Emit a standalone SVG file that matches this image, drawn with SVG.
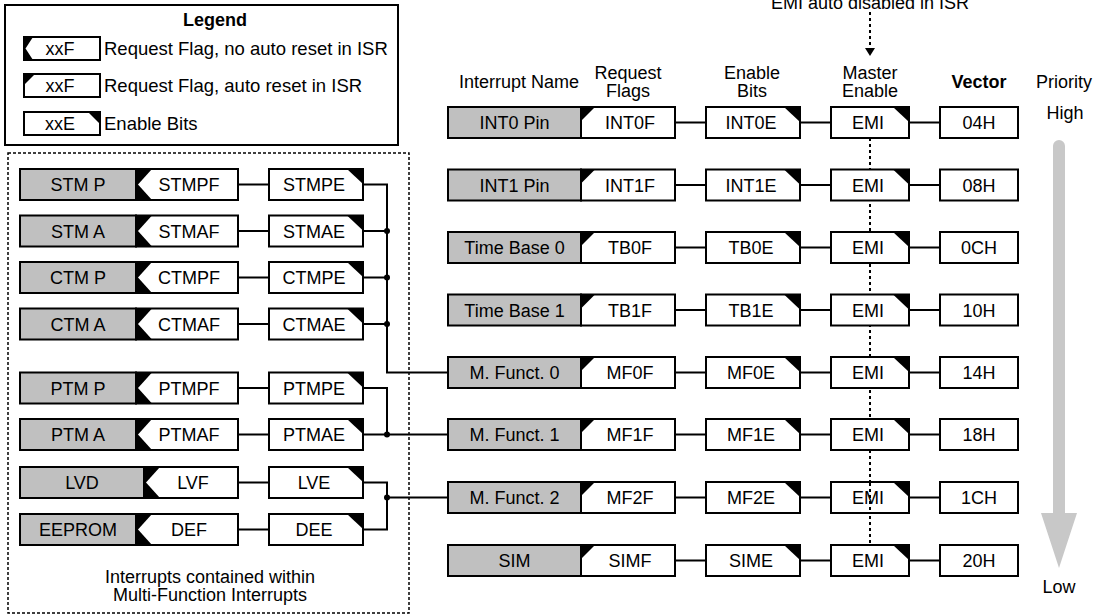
<svg xmlns="http://www.w3.org/2000/svg" width="1096" height="615" viewBox="0 0 1096 615">
<style>
.t{font-family:"Liberation Sans",Arial,sans-serif;font-size:18px;fill:#000;text-anchor:middle}
.tl{font-family:"Liberation Sans",Arial,sans-serif;font-size:18.5px;fill:#000;text-anchor:start}
.b{font-weight:bold}
.box{fill:#fff;stroke:#000;stroke-width:2}
.ol{fill:none;stroke:#000;stroke-width:2}
.gray{fill:#c0c0c0;stroke:#000;stroke-width:2}
.blk{fill:#000}
.wht{fill:#fff}
.ln{fill:none;stroke:#000;stroke-width:2}
.dot{fill:none;stroke:#000;stroke-width:2;stroke-dasharray:3 3}
.brd{fill:none;stroke:#000;stroke-width:1.5;stroke-dasharray:3 2}
</style>
<rect width="1096" height="615" fill="#fff"/>

<!-- Legend -->
<g id="legend">
<rect x="5" y="5" width="393" height="140" class="ol"/>
<text x="215" y="26" class="t b">Legend</text>
<rect x="24" y="37" width="9" height="23" class="blk"/>
<polygon points="33,37 100,37 100,60 33,60 25.5,48.5" class="wht"/>
<rect x="24" y="37" width="76" height="23" class="ol"/>
<text x="60" y="55" class="t">xxF</text>
<text x="104" y="55" class="tl">Request Flag, no auto reset in ISR</text>
<rect x="24" y="74" width="76" height="23" class="box"/>
<polygon points="24,74 35,74 24,85" class="blk"/>
<text x="60" y="92" class="t">xxF</text>
<text x="104" y="92" class="tl">Request Flag, auto reset in ISR</text>
<rect x="24" y="112" width="76" height="23" class="box"/>
<polygon points="88,112 100,112 100,124" class="blk"/>
<text x="60" y="130" class="t">xxE</text>
<text x="104" y="130" class="tl">Enable Bits</text>
</g>

<!-- Multi-function container -->
<g id="mf-container">
<rect x="8" y="153" width="401" height="460" class="brd"/>
<text x="210" y="583" class="t">Interrupts contained within</text>
<text x="210" y="601" class="t">Multi-Function Interrupts</text>
</g>

<!-- Headers -->
<g id="headers">
<text x="870" y="9" class="t">EMI auto disabled in ISR</text>
<text x="519" y="88" class="t">Interrupt Name</text>
<text x="628" y="79" class="t">Request</text>
<text x="628" y="96.5" class="t">Flags</text>
<text x="752" y="79" class="t">Enable</text>
<text x="752" y="96.5" class="t">Bits</text>
<text x="870" y="79" class="t">Master</text>
<text x="870" y="96.5" class="t">Enable</text>
<text x="979" y="88" class="t b">Vector</text>
<text x="1064" y="88" class="t">Priority</text>
<text x="1065" y="119" class="t">High</text>
<text x="1059" y="593" class="t">Low</text>
</g>

<!-- Priority arrow -->
<g id="priority-arrow">
<path d="M1053,513 L1053,146 A6,6 0 0 1 1065,146 L1065,513 L1077,513 L1059,568 L1041,513 Z" fill="#c8c8c8"/>
</g>

<!-- Connectors -->
<g id="connectors">
<line x1="870" y1="12" x2="870" y2="49" class="dot"/>
<polygon points="865,48 875,48 870,56" class="blk"/>
<line x1="870" y1="138" x2="870" y2="545" class="dot"/>
<!-- right rows -->
<path d="M675,122.5H706M800,122.5H831M909,122.5H940" class="ln"/>
<path d="M675,185H706M800,185H831M909,185H940" class="ln"/>
<path d="M675,247.5H706M800,247.5H831M909,247.5H940" class="ln"/>
<path d="M675,310H706M800,310H831M909,310H940" class="ln"/>
<path d="M675,372.5H706M800,372.5H831M909,372.5H940" class="ln"/>
<path d="M675,434.5H706M800,434.5H831M909,434.5H940" class="ln"/>
<path d="M675,497.5H706M800,497.5H831M909,497.5H940" class="ln"/>
<path d="M675,560.5H706M800,560.5H831M909,560.5H940" class="ln"/>
<!-- left rows -->
<path d="M238,184.5H269M238,231H269M238,277.5H269M238,324H269M238,388H269M238,434.5H269M238,482.5H269M238,529.5H269" class="ln"/>
<!-- bus 1 -->
<path d="M363,184.5H387V372.5H448M363,231H387M363,277.5H387M363,324H387" class="ln"/>
<circle cx="387" cy="231" r="3" class="blk"/>
<circle cx="387" cy="277.5" r="3" class="blk"/>
<circle cx="387" cy="324" r="3" class="blk"/>
<!-- bus 2 -->
<path d="M363,388H387V434.5M363,434.5H448" class="ln"/>
<circle cx="387" cy="434.5" r="3" class="blk"/>
<!-- bus 3 -->
<path d="M363,482.5H387V529.5H363M387,497.5H448" class="ln"/>
<circle cx="387" cy="497.5" r="3" class="blk"/>
</g>

<!-- Right rows -->
<g id="int0">
<rect x="448" y="107" width="133" height="31" class="gray"/><text x="514.5" y="129" class="t">INT0 Pin</text>
<rect x="581" y="107" width="94" height="31" class="box"/><polygon points="581,107 595,107 581,121" class="blk"/><text x="630" y="129" class="t">INT0F</text>
<rect x="706" y="107" width="94" height="31" class="box"/><polygon points="784,107 800,107 800,122" class="blk"/><text x="751" y="129" class="t">INT0E</text>
<rect x="831" y="107" width="78" height="31" class="box"/><polygon points="893,107 909,107 909,122" class="blk"/><text x="868" y="129" class="t">EMI</text>
<rect x="940" y="107" width="78" height="31" class="box"/><text x="979" y="129" class="t">04H</text>
</g>
<g id="int1">
<rect x="448" y="169.5" width="133" height="31" class="gray"/><text x="514.5" y="191.5" class="t">INT1 Pin</text>
<rect x="581" y="169.5" width="94" height="31" class="box"/><polygon points="581,169.5 595,169.5 581,183.5" class="blk"/><text x="630" y="191.5" class="t">INT1F</text>
<rect x="706" y="169.5" width="94" height="31" class="box"/><polygon points="784,169.5 800,169.5 800,184.5" class="blk"/><text x="751" y="191.5" class="t">INT1E</text>
<rect x="831" y="169.5" width="78" height="31" class="box"/><polygon points="893,169.5 909,169.5 909,184.5" class="blk"/><text x="868" y="191.5" class="t">EMI</text>
<rect x="940" y="169.5" width="78" height="31" class="box"/><text x="979" y="191.5" class="t">08H</text>
</g>
<g id="tb0">
<rect x="448" y="232" width="133" height="31" class="gray"/><text x="514.5" y="254" class="t">Time Base 0</text>
<rect x="581" y="232" width="94" height="31" class="box"/><polygon points="581,232 595,232 581,246" class="blk"/><text x="630" y="254" class="t">TB0F</text>
<rect x="706" y="232" width="94" height="31" class="box"/><polygon points="784,232 800,232 800,247" class="blk"/><text x="751" y="254" class="t">TB0E</text>
<rect x="831" y="232" width="78" height="31" class="box"/><polygon points="893,232 909,232 909,247" class="blk"/><text x="868" y="254" class="t">EMI</text>
<rect x="940" y="232" width="78" height="31" class="box"/><text x="979" y="254" class="t">0CH</text>
</g>
<g id="tb1">
<rect x="448" y="294.5" width="133" height="31" class="gray"/><text x="514.5" y="316.5" class="t">Time Base 1</text>
<rect x="581" y="294.5" width="94" height="31" class="box"/><polygon points="581,294.5 595,294.5 581,308.5" class="blk"/><text x="630" y="316.5" class="t">TB1F</text>
<rect x="706" y="294.5" width="94" height="31" class="box"/><polygon points="784,294.5 800,294.5 800,309.5" class="blk"/><text x="751" y="316.5" class="t">TB1E</text>
<rect x="831" y="294.5" width="78" height="31" class="box"/><polygon points="893,294.5 909,294.5 909,309.5" class="blk"/><text x="868" y="316.5" class="t">EMI</text>
<rect x="940" y="294.5" width="78" height="31" class="box"/><text x="979" y="316.5" class="t">10H</text>
</g>
<g id="mf0">
<rect x="448" y="357" width="133" height="31" class="gray"/><text x="514.5" y="379" class="t">M. Funct. 0</text>
<rect x="581" y="357" width="94" height="31" class="box"/><polygon points="581,357 595,357 581,371" class="blk"/><text x="630" y="379" class="t">MF0F</text>
<rect x="706" y="357" width="94" height="31" class="box"/><polygon points="784,357 800,357 800,372" class="blk"/><text x="751" y="379" class="t">MF0E</text>
<rect x="831" y="357" width="78" height="31" class="box"/><polygon points="893,357 909,357 909,372" class="blk"/><text x="868" y="379" class="t">EMI</text>
<rect x="940" y="357" width="78" height="31" class="box"/><text x="979" y="379" class="t">14H</text>
</g>
<g id="mf1">
<rect x="448" y="419" width="133" height="31" class="gray"/><text x="514.5" y="441" class="t">M. Funct. 1</text>
<rect x="581" y="419" width="94" height="31" class="box"/><polygon points="581,419 595,419 581,433" class="blk"/><text x="630" y="441" class="t">MF1F</text>
<rect x="706" y="419" width="94" height="31" class="box"/><polygon points="784,419 800,419 800,434" class="blk"/><text x="751" y="441" class="t">MF1E</text>
<rect x="831" y="419" width="78" height="31" class="box"/><polygon points="893,419 909,419 909,434" class="blk"/><text x="868" y="441" class="t">EMI</text>
<rect x="940" y="419" width="78" height="31" class="box"/><text x="979" y="441" class="t">18H</text>
</g>
<g id="mf2">
<rect x="448" y="482" width="133" height="31" class="gray"/><text x="514.5" y="504" class="t">M. Funct. 2</text>
<rect x="581" y="482" width="94" height="31" class="box"/><polygon points="581,482 595,482 581,496" class="blk"/><text x="630" y="504" class="t">MF2F</text>
<rect x="706" y="482" width="94" height="31" class="box"/><polygon points="784,482 800,482 800,497" class="blk"/><text x="751" y="504" class="t">MF2E</text>
<rect x="831" y="482" width="78" height="31" class="box"/><polygon points="893,482 909,482 909,497" class="blk"/><text x="868" y="504" class="t">EMI</text>
<line x1="870" y1="483" x2="870" y2="512" class="dot"/>
<rect x="940" y="482" width="78" height="31" class="box"/><text x="979" y="504" class="t">1CH</text>
</g>
<g id="sim">
<rect x="448" y="545" width="133" height="31" class="gray"/><text x="514.5" y="567" class="t">SIM</text>
<rect x="581" y="545" width="94" height="31" class="box"/><polygon points="581,545 595,545 581,559" class="blk"/><text x="630" y="567" class="t">SIMF</text>
<rect x="706" y="545" width="94" height="31" class="box"/><polygon points="784,545 800,545 800,560" class="blk"/><text x="751" y="567" class="t">SIME</text>
<rect x="831" y="545" width="78" height="31" class="box"/><polygon points="893,545 909,545 909,560" class="blk"/><text x="868" y="567" class="t">EMI</text>
<rect x="940" y="545" width="78" height="31" class="box"/><text x="979" y="567" class="t">20H</text>
</g>

<!-- Left rows -->
<g id="stmp">
<rect x="20" y="169" width="116" height="31" class="gray"/><text x="78" y="191" class="t">STM P</text>
<rect x="136" y="169" width="16" height="31" class="blk"/><polygon points="152,169 238,169 238,200 152,200 138,184.5" class="wht"/><rect x="136" y="169" width="102" height="31" class="ol"/><text x="189" y="191" class="t">STMPF</text>
<rect x="269" y="169" width="94" height="31" class="box"/><polygon points="347,169 363,169 363,184" class="blk"/><text x="314" y="191" class="t">STMPE</text>
</g>
<g id="stma">
<rect x="20" y="215.5" width="116" height="31" class="gray"/><text x="78" y="237.5" class="t">STM A</text>
<rect x="136" y="215.5" width="16" height="31" class="blk"/><polygon points="152,215.5 238,215.5 238,246.5 152,246.5 138,231" class="wht"/><rect x="136" y="215.5" width="102" height="31" class="ol"/><text x="189" y="237.5" class="t">STMAF</text>
<rect x="269" y="215.5" width="94" height="31" class="box"/><polygon points="347,215.5 363,215.5 363,230.5" class="blk"/><text x="314" y="237.5" class="t">STMAE</text>
</g>
<g id="ctmp">
<rect x="20" y="262" width="116" height="31" class="gray"/><text x="78" y="284" class="t">CTM P</text>
<rect x="136" y="262" width="16" height="31" class="blk"/><polygon points="152,262 238,262 238,293 152,293 138,277.5" class="wht"/><rect x="136" y="262" width="102" height="31" class="ol"/><text x="189" y="284" class="t">CTMPF</text>
<rect x="269" y="262" width="94" height="31" class="box"/><polygon points="347,262 363,262 363,277" class="blk"/><text x="314" y="284" class="t">CTMPE</text>
</g>
<g id="ctma">
<rect x="20" y="308.5" width="116" height="31" class="gray"/><text x="78" y="330.5" class="t">CTM A</text>
<rect x="136" y="308.5" width="16" height="31" class="blk"/><polygon points="152,308.5 238,308.5 238,339.5 152,339.5 138,324" class="wht"/><rect x="136" y="308.5" width="102" height="31" class="ol"/><text x="189" y="330.5" class="t">CTMAF</text>
<rect x="269" y="308.5" width="94" height="31" class="box"/><polygon points="347,308.5 363,308.5 363,323.5" class="blk"/><text x="314" y="330.5" class="t">CTMAE</text>
</g>
<g id="ptmp">
<rect x="20" y="372.5" width="116" height="31" class="gray"/><text x="78" y="394.5" class="t">PTM P</text>
<rect x="136" y="372.5" width="16" height="31" class="blk"/><polygon points="152,372.5 238,372.5 238,403.5 152,403.5 138,388" class="wht"/><rect x="136" y="372.5" width="102" height="31" class="ol"/><text x="189" y="394.5" class="t">PTMPF</text>
<rect x="269" y="372.5" width="94" height="31" class="box"/><polygon points="347,372.5 363,372.5 363,387.5" class="blk"/><text x="314" y="394.5" class="t">PTMPE</text>
</g>
<g id="ptma">
<rect x="20" y="419" width="116" height="31" class="gray"/><text x="78" y="441" class="t">PTM A</text>
<rect x="136" y="419" width="16" height="31" class="blk"/><polygon points="152,419 238,419 238,450 152,450 138,434.5" class="wht"/><rect x="136" y="419" width="102" height="31" class="ol"/><text x="189" y="441" class="t">PTMAF</text>
<rect x="269" y="419" width="94" height="31" class="box"/><polygon points="347,419 363,419 363,434" class="blk"/><text x="314" y="441" class="t">PTMAE</text>
</g>
<g id="lvd">
<rect x="20" y="467" width="124" height="31" class="gray"/><text x="82" y="489" class="t">LVD</text>
<rect x="144" y="467" width="16" height="31" class="blk"/><polygon points="160,467 238,467 238,498 160,498 146,482.5" class="wht"/><rect x="144" y="467" width="94" height="31" class="ol"/><text x="193" y="489" class="t">LVF</text>
<rect x="269" y="467" width="94" height="31" class="box"/><polygon points="347,467 363,467 363,482" class="blk"/><text x="314" y="489" class="t">LVE</text>
</g>
<g id="eeprom">
<rect x="20" y="514" width="116" height="31" class="gray"/><text x="78" y="536" class="t">EEPROM</text>
<rect x="136" y="514" width="16" height="31" class="blk"/><polygon points="152,514 238,514 238,545 152,545 138,529.5" class="wht"/><rect x="136" y="514" width="102" height="31" class="ol"/><text x="189" y="536" class="t">DEF</text>
<rect x="269" y="514" width="94" height="31" class="box"/><polygon points="347,514 363,514 363,529" class="blk"/><text x="314" y="536" class="t">DEE</text>
</g>
</svg>
